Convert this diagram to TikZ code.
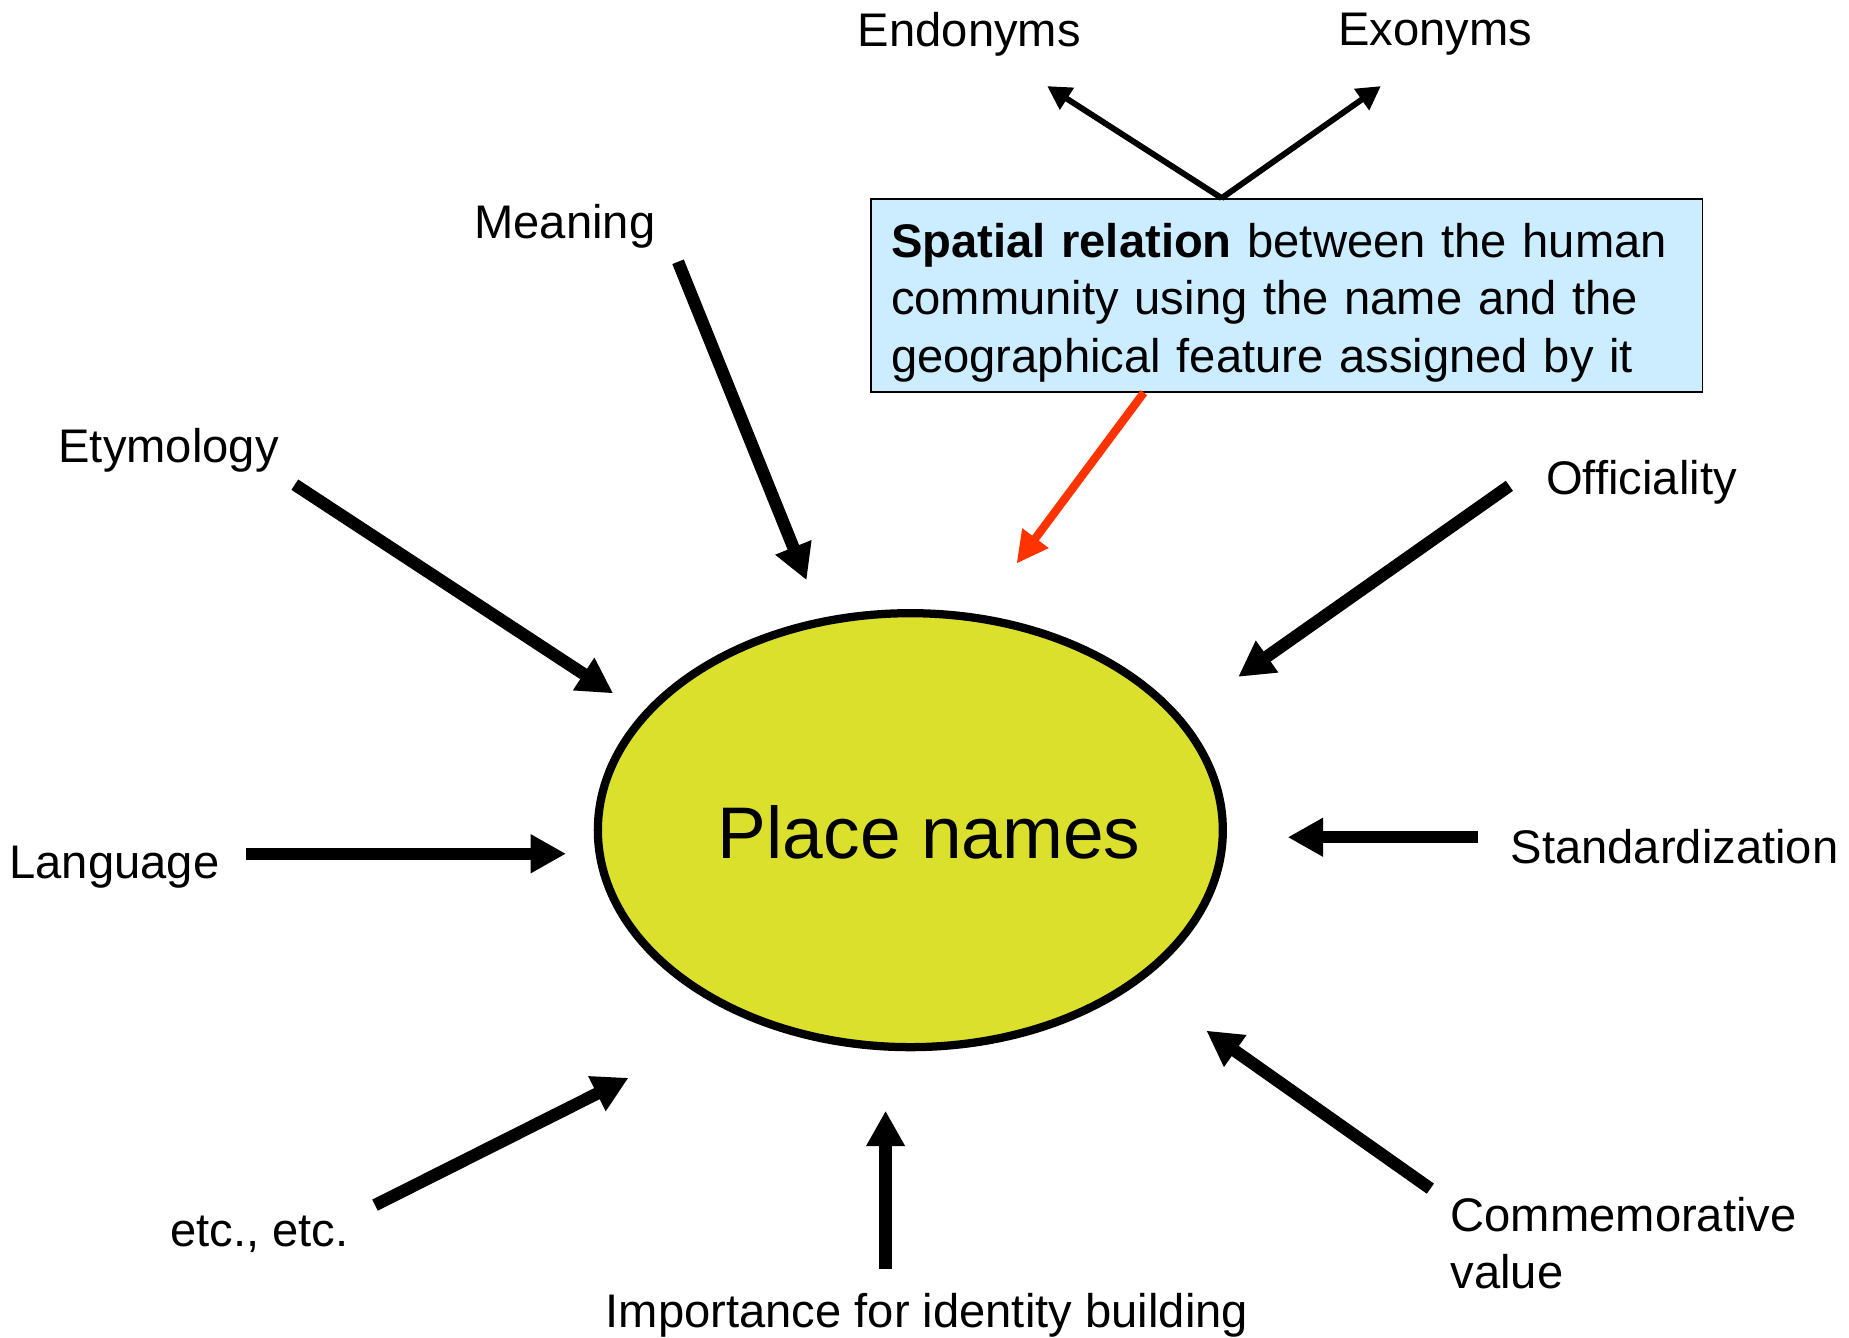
\documentclass[tikz,border=0pt]{standalone}
\usepackage{fontspec}
\setmainfont{Liberation Sans}
\usetikzlibrary{shapes.geometric, arrows.meta, positioning}
\definecolor{amarilloNombre}{HTML}{DBE02D}
\definecolor{azulCaja}{HTML}{CCECFF}
\definecolor{rojoFlecha}{HTML}{FF3300}

\begin{document}
\begin{tikzpicture}[x=1pt, y=-1pt,
        lbl/.style={font=\fontsize{40}{48}\selectfont, inner sep=0pt, yshift=-4pt},
        centro/.style={ellipse, draw=black, line width=7pt, fill=amarilloNombre,
            minimum width=530pt, minimum height=368pt, inner sep=0pt},
        caja/.style={draw=black, line width=1.2pt, fill=azulCaja, anchor=north west,
            text width=671pt, text height=41pt, minimum height=164pt, align=left,
            inner xsep=17pt, inner ysep=4pt, font=\fontsize{40}{49}\selectfont},
        rel/.style={-{Triangle[length=30pt, width=31pt]}, line width=10.5pt, black},
        relfina/.style={-{Triangle[length=20pt, width=21pt]}, line width=5pt, black},
        relroja/.style={-{Triangle[length=27pt, width=26pt]}, line width=7pt, rojoFlecha}
    ]
        \useasboundingbox (0,0) rectangle (1568,1134);
        \node[centro] (pn) at (772,704) {};
        \node[font=\fontsize{62}{70}\selectfont, inner sep=0pt] (pntxt) at (788,706) {Place names};
        \node[caja] (spatial) at (738,168) {\textbf{Spatial relation} between the human community using the name and the geographical feature assigned by it};
        \node[lbl] (endo) at (822,25) {Endonyms};
        \node[lbl] (exo) at (1217,25) {Exonyms};
        \node[lbl] (mean) at (479,188) {Meaning};
        \node[lbl] (ety) at (143,378) {Etymology};
        \node[lbl] (lang) at (97,731) {Language};
        \node[lbl] (etc) at (220,1043) {etc., etc.};
        \node[lbl] (ident) at (786,1111) {Importance for identity building};
        \node[lbl, align=left, anchor=west] (comm) at (1230,1050) {Commemorative\\value};
        \node[lbl] (std) at (1420,714) {Standardization};
        \node[lbl] (off) at (1392,405) {Officiality};
        % arrow ends
        \coordinate (endoTip) at (888,73);
        \coordinate (exoTip) at (1171,73);
        \coordinate (spatialTop) at (1036,168);
        \coordinate (rojoIni) at (970,333);
        \coordinate (rojoFin) at (862,478);
        \coordinate (meanIni) at (575,222);   \coordinate (meanFin) at (684,492);
        \coordinate (etyIni) at (250,411);    \coordinate (etyFin) at (520,588);
        \coordinate (langIni) at (209,724);   \coordinate (langFin) at (480,724);
        \coordinate (etcIni) at (318,1022);   \coordinate (etcFin) at (533,914);
        \coordinate (identIni) at (751,1076); \coordinate (identFin) at (751,942);
        \coordinate (commIni) at (1213,1008); \coordinate (commFin) at (1023,874);
        \coordinate (stdIni) at (1253,710);   \coordinate (stdFin) at (1092,710);
        \coordinate (offIni) at (1280,412);   \coordinate (offFin) at (1050,574);
        \draw[relfina] (spatialTop)--(endoTip);
        \draw[relfina] (spatialTop)--(exoTip);
        \draw[relroja] (rojoIni)--(rojoFin);
        \draw[rel] (meanIni)--(meanFin); \draw[rel] (etyIni)--(etyFin);
        \draw[rel] (langIni)--(langFin); \draw[rel] (etcIni)--(etcFin);
        \draw[rel] (identIni)--(identFin); \draw[rel] (commIni)--(commFin);
        \draw[rel] (stdIni)--(stdFin); \draw[rel] (offIni)--(offFin);
    \end{tikzpicture}
\end{document}
